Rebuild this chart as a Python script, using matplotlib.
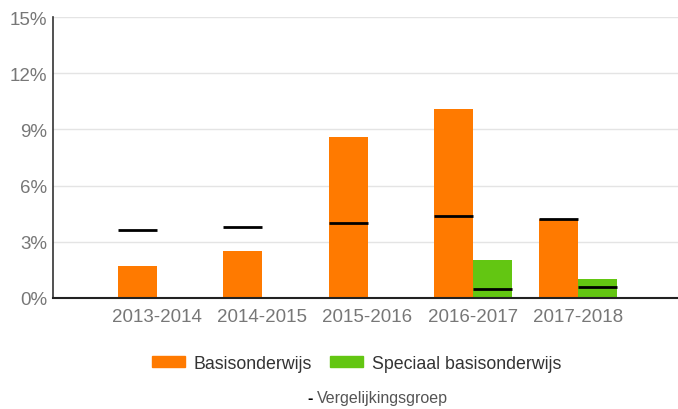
import matplotlib.pyplot as plt
from matplotlib.patches import Patch
import numpy as np

plt.rcParams['font.family'] = ['Liberation Sans', 'DejaVu Sans']

jaren = ["2013-2014", "2014-2015", "2015-2016", "2016-2017", "2017-2018"]
basis = [1.7, 2.5, 8.6, 10.1, 4.2]
speciaal = [0, 0, 0, 2.0, 1.0]
verg_basis = [3.6, 3.8, 4.0, 4.4, 4.2]
verg_speciaal = [np.nan, np.nan, np.nan, 0.5, 0.6]
yticks = [0, 3, 6, 9, 12, 15]

oranje = "#ff7a00"
groen = "#63c612"

fig = plt.figure(figsize=(6.78, 4.10), dpi=100)
ax = fig.add_axes([0.078, 0.271, 0.922, 0.685])

x = np.arange(len(jaren))
w = 0.37
ax.bar(x - w / 2, basis, w, color=oranje, zorder=2)
ax.bar(x + w / 2, speciaal, w, color=groen, zorder=2)
ax.hlines(verg_basis, x - w, x, color="black", lw=2, zorder=3)
ax.hlines(verg_speciaal, x, x + w, color="black", lw=2, zorder=3)

ax.set_xlim(-0.99, 4.95)
ax.set_ylim(0, 15)
ax.set_yticks(yticks)
ax.set_yticklabels([f"{v}%" for v in yticks])
ax.set_xticks(x)
ax.set_xticklabels(jaren)
ax.tick_params(axis="y", length=0, pad=4, labelsize=13.5, labelcolor="#777777")
ax.tick_params(axis="x", length=0, pad=7, labelsize=13.5, labelcolor="#777777")
ax.grid(axis="y", color="#e4e4e4", lw=1, zorder=0)
for s in ["top", "right"]:
    ax.spines[s].set_visible(False)
ax.spines["left"].set_color("#333333")
ax.spines["bottom"].set_color("#222222")
ax.spines["left"].set_linewidth(1.2)
ax.spines["bottom"].set_linewidth(1.5)

handles = [Patch(color=oranje, label="Basisonderwijs"),
           Patch(color=groen, label="Speciaal basisonderwijs")]
fig.legend(handles=handles, loc="center", bbox_to_anchor=(0.526, 0.112), ncol=2,
           frameon=False, fontsize=12.8, handlelength=1.85, handleheight=0.62,
           handletextpad=0.5, columnspacing=1.0, labelcolor="#333333")
fig.text(0.453, 0.027, "-", fontsize=11.5, color="black", fontweight="bold",
         ha="left", va="center")
fig.text(0.4676, 0.027, "Vergelijkingsgroep", fontsize=11.5, color="#555555",
         ha="left", va="center")

fig.savefig("out.png", dpi=100)
